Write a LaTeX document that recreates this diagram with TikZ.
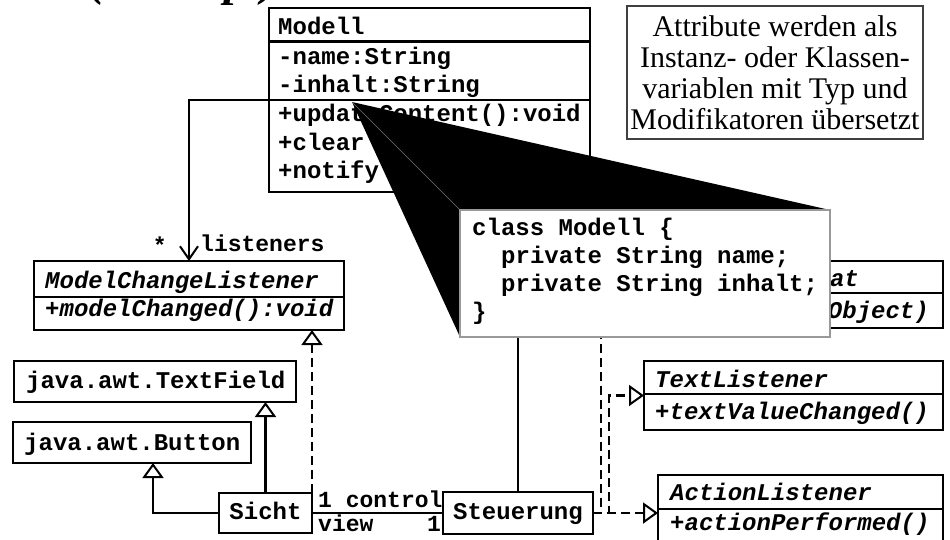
\documentclass[tikz,border=0pt]{standalone}
\usepackage{fontspec}
\setmainfont{Liberation Serif}
\setmonofont{Liberation Mono}
\usetikzlibrary{arrows.meta,calc}
\begin{document}
\begin{tikzpicture}[x=1pt,y=-1pt,
  umlbox/.style={draw, line width=2.5pt, inner sep=0pt, outer sep=0pt, anchor=north west},
  sepline/.style={line width=2.5pt},
  mono/.style={font=\fontsize{24}{28}\selectfont\ttfamily\bfseries, inner sep=0pt, anchor=base west},
  imono/.style={font=\fontsize{24}{28}\selectfont\ttfamily\bfseries\itshape, inner sep=0pt, anchor=base west},
  lbl/.style={font=\fontsize{23}{26}\selectfont\ttfamily\bfseries, inner sep=0pt},
  assoc/.style={line width=2.5pt},
  nav/.style={assoc, -{Straight Barb[length=13pt,width=18pt,line width=2pt]}},
  gen/.style={line width=2.5pt, -{Triangle[open,length=15pt,width=21pt,line width=2pt]}},
  real/.style={gen, dash pattern=on 9pt off 5pt},
]
\useasboundingbox (0,0) rectangle (950,539);

% partly visible title at the top edge
\node[font=\fontsize{47}{47}\selectfont\bfseries\itshape, anchor=base west, inner sep=0pt] (title) at (89,-5) {(Konzept)};

% ---- Modell
\node[umlbox, minimum width=321pt, minimum height=184pt] (modell) at (269,8) {};
\draw[line width=3pt] ($(modell.north west)+(0,33)$) -- ($(modell.north east)+(0,33)$);
\draw[sepline] ($(modell.north west)+(0,92)$) -- ($(modell.north east)+(0,92)$);
\node[mono] (m0) at (278,34) {Modell};
\node[mono] (m1) at (278,64) {-name:String};
\node[mono] (m2) at (278,92) {-inhalt:String};
\node[mono] (m3) at (278,121) {+updateContent():void};
\node[mono] (m4) at (278,150) {+clear};
\node[mono] (m5) at (278,178) {+notify};

% ---- note
\node[draw=black!75, line width=1.2pt, inner sep=0pt, outer sep=0pt, anchor=north west,
      minimum width=296pt, minimum height=133pt, align=center,
      font=\fontsize{30}{31}\selectfont] (note) at (627,6)
  {Attribute werden als\\Instanz- oder Klassen-\\variablen mit Typ und\\Modifikatoren übersetzt};

% ---- ModelChangeListener
\node[umlbox, minimum width=310pt, minimum height=69pt] (mcl) at (34,261) {};
\draw[sepline] ($(mcl.north west)+(0,36)$) -- ($(mcl.north east)+(0,36)$);
\node[imono] (mcl1) at (45,288) {ModelChangeListener};
\node[imono] (mcl2) at (45,316) {+modelChanged():void};

% ---- java.awt classes
\node[umlbox, minimum width=282pt, minimum height=41pt] (tf) at (14,361) {};
\node[mono] (tft) at (26,388) {java.awt.TextField};
\node[umlbox, minimum width=238pt, minimum height=41pt] (btn) at (13,422) {};
\node[mono] (btnt) at (24,450) {java.awt.Button};

% ---- Sicht, Steuerung
\node[umlbox, minimum width=93pt, minimum height=40pt] (sicht) at (219,493) {};
\node[mono, anchor=base] (sichtt) at (265.5,519) {Sicht};
\node[umlbox, minimum width=150pt, minimum height=42pt] (steu) at (443,492) {};
\node[mono, anchor=base] (steut) at (518,519) {Steuerung};

% ---- interface mostly hidden behind the callout
\node[umlbox, minimum width=243pt, minimum height=67pt] (fmt) at (700,261) {};
\draw[sepline] ($(fmt.north west)+(0,32)$) -- ($(fmt.north east)+(0,32)$);
\node[imono, anchor=base east] (fmt1) at (859,286) {at};
\node[imono, anchor=base east] (fmt2) at (929,318) {Object)};

% ---- TextListener
\node[umlbox, minimum width=299pt, minimum height=69pt] (tl) at (644,361) {};
\draw[sepline] ($(tl.north west)+(0,33)$) -- ($(tl.north east)+(0,33)$);
\node[imono] (tl1) at (655,387) {TextListener};
\node[imono] (tl2) at (655,419) {+textValueChanged()};

% ---- ActionListener
\node[umlbox, minimum width=285pt, minimum height=75pt] (al) at (658,475) {};
\draw[sepline] ($(al.north west)+(0,34)$) -- ($(al.north east)+(0,34)$);
\node[imono] (al1) at (670,500) {ActionListener};
\node[imono] (al2) at (670,530) {+actionPerformed()};

% ---- connectors
\draw[nav] (modell.west) -| (mcl.north);
\node[lbl, anchor=base east] (star) at (167,253) {*};
\node[lbl, anchor=base west] (lis) at (200,251) {listeners};

\draw[gen] (sicht.north) -- (sicht.north |- tf.south);
\draw[gen] (sicht.west) -| ([xshift=21pt]btn.south);
\draw[real] (sicht.north east) -- (sicht.north east |- mcl.south);

\draw[assoc] (sicht.east) -- (steu.west);
\node[lbl, anchor=base west] (ctl) at (318,507) {1 control};
\node[lbl, anchor=base west] (vw) at (318,531) {view};
\node[lbl, anchor=base east] (one) at (441,531) {1};

\draw[assoc] (steu.north) -- (steu.north |- modell.south);
\draw[real] (steu.east) -- (steu.east -| al.west);
\draw[real] (steu.east) -- ++(16,0) |- (tl.west);
\draw[real] (steu.east) -- ++(8,0) |- (fmt.west);

% ---- callout
\coordinate (apex) at (352,102);
\coordinate (cTL) at (460,210);
\coordinate (cTR) at (830,210);
\coordinate (cBL) at (460,337);
\fill[black] (apex) -- (cTR) -- (cBL) -- cycle;
\draw[black!55, line width=0.6pt] (apex) -- (cTL);
\node[draw=black!40, fill=white, line width=1.5pt, inner sep=0pt, outer sep=0pt, anchor=north west,
      minimum width=370pt, minimum height=127pt] (callout) at (cTL) {};
\node[mono] (c1) at (472,235) {class Modell \{};
\node[mono] (c2) at (501,263) {private String name;};
\node[mono] (c3) at (501,291) {private String inhalt;};
\node[mono] (c4) at (472,319) {\}};
\end{tikzpicture}
\end{document}
